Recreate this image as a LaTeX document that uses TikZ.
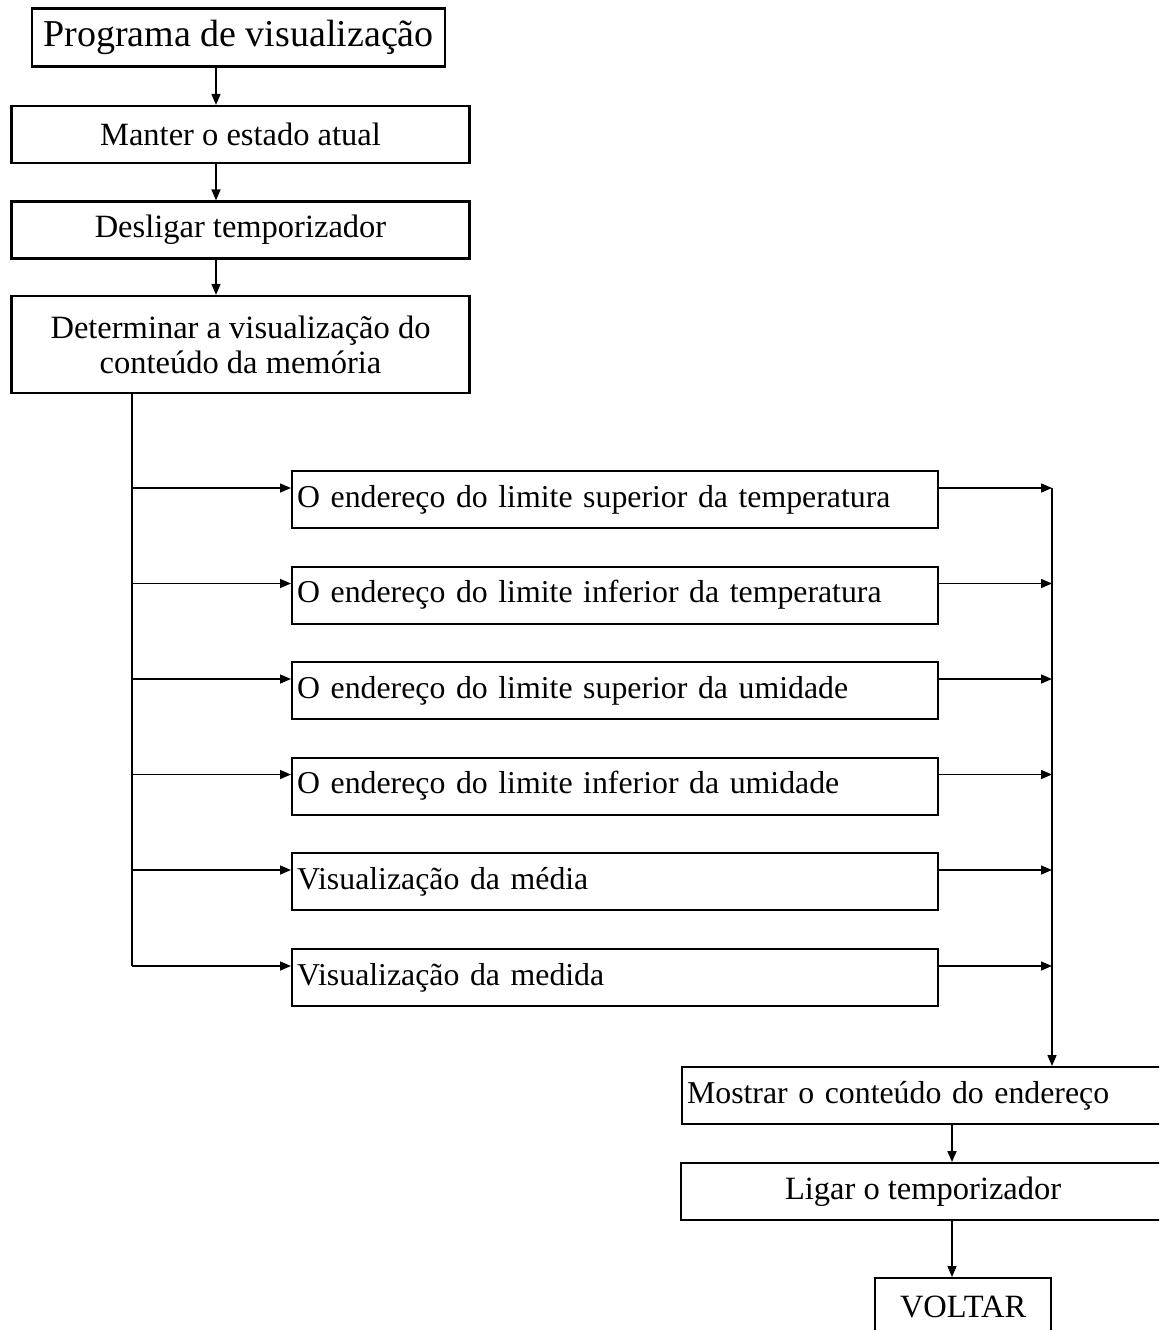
\documentclass[tikz,border=0pt]{standalone}
\usepackage{fontspec}
\setmainfont{Liberation Serif}
\usetikzlibrary{arrows.meta,calc}
\begin{document}
\begin{tikzpicture}[x=1pt,y=-1pt,
  box/.style={draw,line width=2.2pt,inner sep=0pt,inner xsep=5pt,font=\fontsize{32.5}{35}\selectfont},
  lbox/.style={box,anchor=north west,text width=636pt,minimum height=57pt,align=left,font=\fontsize{31.8}{35}\selectfont},
  arr/.style={line width=1.5pt,-{Triangle[length=11pt,width=9pt]}},
  ln/.style={line width=1.5pt}]
\useasboundingbox (0,0) rectangle (1159,1330);
\clip (0,0) rectangle (1159,1330);
% left column
\node[box,minimum width=413pt,minimum height=58pt,font=\fontsize{38}{40}\selectfont] (b1) at (238.5,37.5) {Programa de visualização};
\node[box,minimum width=458pt,minimum height=57pt] (b2) at (240.5,134.5) {Manter o estado atual};
\node[box,minimum width=458pt,minimum height=57pt] (b3) at (240.5,230) {Desligar temporizador};
\node[box,minimum width=458pt,minimum height=97pt,align=center] (b4) at (240.5,344.5) {Determinar a visualização do\\conteúdo da memória};
\coordinate (ax) at (216,0);
\draw[arr] (b1.south -| ax) -- (b2.north -| ax);
\draw[arr] (b2.south -| ax) -- (b3.north -| ax);
\draw[arr] (b3.south -| ax) -- (b4.north -| ax);
% options
\node[lbox] (r1) at (291,470) {O endereço do limite superior da temperatura};
\node[lbox] (r2) at (291,565.5) {O endereço do limite inferior da temperatura};
\node[lbox] (r3) at (291,661) {O endereço do limite superior da umidade};
\node[lbox] (r4) at (291,756.5) {O endereço do limite inferior da umidade};
\node[lbox] (r5) at (291,852) {Visualização da média};
\node[lbox] (r6) at (291,948) {Visualização da medida};
\foreach \i in {1,...,6}{\coordinate (r\i in) at ($(r\i.north west)+(0,18)$);}
\coordinate (tL) at (132,0);
\coordinate (tR) at (1052,0);
\draw[ln] (b4.south -| tL) -- (r6in -| tL);
\foreach \i in {1,...,6}{
  \draw[arr] (r\i in -| tL) -- (r\i in);
  \draw[arr] (r\i in -| r\i.east) -- (r\i in -| tR);
}
% bottom
\node[box,anchor=north west,text width=474pt,minimum height=57pt,align=left,font=\fontsize{31.8}{35}\selectfont] (m) at (681,1066) {Mostrar o conteúdo do endereço};
\node[box,anchor=north west,minimum width=484pt,minimum height=57pt] (lg) at (680,1162) {Ligar o temporizador};
\node[box,anchor=north west,minimum width=176pt,minimum height=57pt] (v) at (874,1277) {VOLTAR};
\draw[arr] (r1in -| tR) -- (m.north -| tR);
\coordinate (bx) at (952,0);
\draw[arr] (m.south -| bx) -- (lg.north -| bx);
\draw[arr] (lg.south -| bx) -- (v.north -| bx);
\end{tikzpicture}
\end{document}
